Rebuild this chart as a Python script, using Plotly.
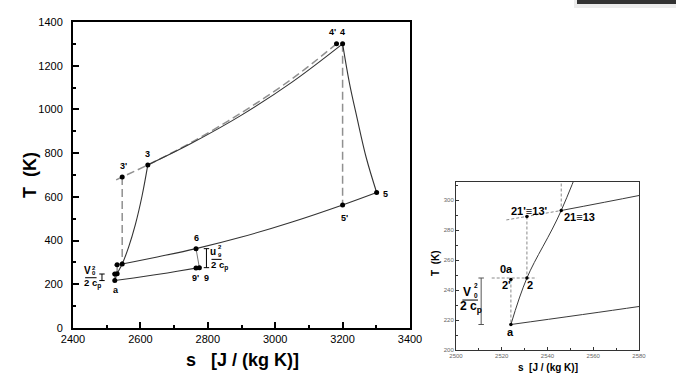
import plotly.graph_objects as go

# ---------------- data (s in J/(kg K), T in K) ----------------
pt_names = ["a", "0a", "2", "21'", "21", "3'", "3", "4'", "4", "5", "5'", "6", "9'", "9"]
pt_s = [2524, 2524, 2531, 2531, 2546, 2546, 2622, 3182, 3200, 3301, 3200, 2765, 2765, 2775]
pt_T = [217, 247, 248, 289, 293, 691, 746, 1300, 1300, 620, 563, 363, 275, 276]

comp_s = [2524, 2531, 2546, 2565, 2585, 2605, 2622]          # a-2-21-3
comp_T = [217, 248, 293, 370, 473, 605, 746]
burn_s = [2622, 2750, 2900, 3050, 3200]                      # 3-4
burn_T = [746, 844, 974, 1125, 1300]
burn_id_s = [2528, 2546, 2622, 2750, 2900, 3050, 3182]       # 3'-4' dashed
burn_id_T = [678, 691, 746, 848, 985, 1140, 1300]
turb_s = [3200, 3220, 3242, 3270, 3301]                      # 4-5
turb_T = [1300, 1123, 967, 780, 620]
hip_s = [2546, 2580, 2650, 2765, 2900, 3050, 3200, 3301]     # 21-6-5'-5
hip_T = [293, 303, 325, 363, 416, 485, 563, 620]
amb_s = [2524, 2580, 2680, 2765, 2775]                       # a-9'-9
amb_T = [217, 229, 252, 274, 276]
noz_s = [2765, 2775]                                         # 6-9
noz_T = [363, 276]

guide_lines = [  # dashed guides (s list, T list)
    ([2546, 2546], [691, 293]),
    ([3200, 3200], [1300, 563]),
    ([2522, 2531, 2546], [286.7, 289, 293]),
    ([2531, 2531], [289, 248]),
    ([2515.6, 2535.3], [248, 248]),
    ([2524, 2524], [247, 217]),
]

main_x_ticks = [2400, 2600, 2800, 3000, 3200, 3400]
main_y_ticks = [0, 200, 400, 600, 800, 1000, 1200, 1400]
ins_x_ticks = [2500, 2520, 2540, 2560, 2580]
ins_y_ticks = [200, 220, 240, 260, 280, 300]

FONT = "Liberation Sans, Arial, sans-serif"
W, H = 676, 384

fig = go.Figure()

def add_both(xs, ys, main_style, inset_style, shape="linear", dash_main=None, dash_ins=None):
    fig.add_trace(go.Scatter(x=xs, y=ys, mode="lines", xaxis="x", yaxis="y",
                             line=dict(shape=shape, dash=dash_main, **main_style),
                             hoverinfo="skip", showlegend=False))
    fig.add_trace(go.Scatter(x=xs, y=ys, mode="lines", xaxis="x2", yaxis="y2",
                             line=dict(shape=shape, dash=dash_ins, **inset_style),
                             hoverinfo="skip", showlegend=False))

solid_m = dict(color="#333333", width=1.1)
solid_i = dict(color="#3a3a3a", width=1)
dash_m = dict(color="#909090", width=1.5)
dash_i = dict(color="#8a8a8a", width=1)

for gs, gT in guide_lines:
    add_both(gs, gT, dash_m, dash_i, dash_main="8px,4px", dash_ins="3px,2px")
add_both(burn_id_s, burn_id_T, dash_m, dash_i, shape="spline", dash_main="8px,4px", dash_ins="3px,2px")

for xs, ys in [(comp_s, comp_T), (burn_s, burn_T), (turb_s, turb_T),
               (hip_s, hip_T), (amb_s, amb_T)]:
    add_both(xs, ys, solid_m, solid_i, shape="spline")
add_both(noz_s, noz_T, dict(color="#777777", width=1), solid_i)

# markers
fig.add_trace(go.Scatter(x=pt_s, y=pt_T, mode="markers", xaxis="x", yaxis="y",
                         marker=dict(color="black", size=5), hoverinfo="skip", showlegend=False))
fig.add_trace(go.Scatter(x=pt_s, y=pt_T, mode="markers", xaxis="x2", yaxis="y2",
                         marker=dict(color="black", size=3.5), hoverinfo="skip", showlegend=False))

ann = []
shapes = []

def lab(text, x, y, size, xref="x", yref="y", color="black", xanchor="center", angle=0):
    ann.append(dict(text=text, x=x, y=y, xref=xref, yref=yref, showarrow=False,
                    font=dict(family=FONT, size=size, color=color), xanchor=xanchor,
                    yanchor="middle", textangle=angle, borderpad=0))

# main point labels
for t, x, y in [("4'", 3171, 1354), ("4", 3201, 1354), ("3", 2622, 795), ("3'", 2549, 742),
                ("5", 3328, 614), ("5'", 3205, 502), ("6", 2765, 413), ("9'", 2764, 230),
                ("9", 2796, 230), ("a", 2527, 174)]:
    lab("<b>%s</b>" % t, x, y, 9)

# inset point labels
for t, x, y in [("21'\u226113'", 2532, 292.7), ("0a", 2522, 254), ("2'", 2522, 243.1),
                ("2", 2532.3, 243.1), ("a", 2524, 212.2)]:
    lab("<b>%s</b>" % t, x, y, 11, "x2", "y2")
lab("<b>21\u226113</b>", 2546.6, 288.9, 11, "x2", "y2", xanchor="left")

def seg(x0, y0, x1, y1, xref, yref, color="black", width=1):
    shapes.append(dict(type="line", x0=x0, y0=y0, x1=x1, y1=y1, xref=xref, yref=yref,
                       line=dict(color=color, width=width)))

def bracket(xc, y0, y1, half, xref, yref, color="black"):
    seg(xc, y0, xc, y1, xref, yref, color)
    seg(xc - half, y0, xc + half, y0, xref, yref, color)
    seg(xc - half, y1, xc + half, y1, xref, yref, color)

T_a, T_0a, T_6, T_9 = pt_T[0], pt_T[1], pt_T[11], pt_T[13]

# main V0^2/2cp
bracket(2486, T_a, T_0a, 8, "x", "y")
lab("<b>V</b>", 2442, 262, 10, xanchor="center")
lab("<b>2</b>", 2453, 273, 6, xanchor="left")
lab("<b>0</b>", 2453, 250, 6, xanchor="left")
seg(2436, 230, 2470, 230, "x", "y")
lab("<b>2 c<sub>p</sub></b>", 2457, 202, 9.5)

# main u9^2/2cp
bracket(2796, T_9, T_6, 8, "x", "y")
lab("<b>u</b>", 2814, 350, 10)
lab("<b>2</b>", 2827, 371, 6, xanchor="left")
lab("<b>9</b>", 2827, 333, 6, xanchor="left")
seg(2811, 314, 2841, 314, "x", "y")
lab("<b>2 c<sub>p</sub></b>", 2836, 284, 9.5)

# inset V0^2/2cp
bracket(2511, T_a, T_0a + 1, 1.2, "x2", "y2", color="#555")
lab("<b>V</b>", 2505, 238.9, 12, "x2", "y2")
lab("<b>2</b>", 2507.4, 243, 6.5, "x2", "y2", xanchor="left")
lab("<b>0</b>", 2507.4, 236.5, 6.5, "x2", "y2", xanchor="left")
seg(2502.8, 233.3, 2509.6, 233.3, "x2", "y2")
lab("<b>2 c<sub>p</sub></b>", 2506.5, 228.4, 12, "x2", "y2")

# axis titles
lab("<b>T\u00a0\u00a0(K)</b>", 30 / W, 1 - 175 / H, 18, "paper", "paper", angle=-90)
lab("<b>s\u00a0\u00a0\u00a0[J / (kg K)]</b>", 242 / W, 1 - 360 / H, 18, "paper", "paper")
lab("<b>T\u00a0\u00a0(K)</b>", 435 / W, 1 - 263 / H, 10, "paper", "paper", angle=-90)
lab("<b>s\u00a0\u00a0[J / (kg K)]</b>", 548 / W, 1 - 367 / H, 10, "paper", "paper")

# dark bar at top right (page chrome)
shapes.append(dict(type="rect", xref="paper", yref="paper", x0=574 / W, x1=1, y0=1 - 8 / H, y1=1,
                   fillcolor="#ececec", line=dict(width=0), layer="above"))
shapes.append(dict(type="rect", xref="paper", yref="paper", x0=577 / W, x1=1, y0=1 - 4 / H, y1=1,
                   fillcolor="#333333", line=dict(width=0), layer="above"))

main_axis = dict(showline=True, linewidth=2, linecolor="black", mirror=True, showgrid=False,
                 zeroline=False, ticks="inside", ticklen=6, tickwidth=1.5, tickcolor="black",
                 tickfont=dict(family=FONT, size=11, color="black"), automargin=False)
ins_axis = dict(showline=True, linewidth=1, linecolor="#333", mirror=True, showgrid=False,
                zeroline=False, ticks="inside", ticklen=3, tickwidth=1, tickcolor="#333",
                tickfont=dict(family=FONT, size=6, color="#666"), automargin=False)

fig.update_layout(
    width=W, height=H, margin=dict(l=0, r=0, t=0, b=0),
    paper_bgcolor="white", plot_bgcolor="white",
    xaxis=dict(domain=[73 / W, 410 / W], range=[2400, 3400], tickvals=main_x_ticks, anchor="y",
               minor=dict(ticks="inside", ticklen=3, dtick=100, tick0=2400, tickcolor="black"),
               **main_axis),
    yaxis=dict(domain=[1 - 328 / H, 1 - 22 / H], range=[0, 1400], tickvals=main_y_ticks, anchor="x",
               ticklabelstandoff=6,
               minor=dict(ticks="inside", ticklen=3, dtick=100, tick0=0, tickcolor="black"),
               **main_axis),
    xaxis2=dict(domain=[456 / W, 639 / W], range=[2500, 2580], tickvals=ins_x_ticks, anchor="y2",
                minor=dict(ticks="inside", ticklen=2, dtick=10, tick0=2500, tickcolor="#333"),
                **ins_axis),
    yaxis2=dict(domain=[1 - 350 / H, 1 - 182 / H], range=[200, 312], tickvals=ins_y_ticks, anchor="x2",
                minor=dict(ticks="inside", ticklen=2, dtick=10, tick0=200, tickcolor="#333"),
                **ins_axis),
    annotations=ann, shapes=shapes, showlegend=False,
)

fig.write_html("out.html", config={"displayModeBar": False},
               post_script="document.body.style.margin='0px';document.body.style.overflow='hidden';")
